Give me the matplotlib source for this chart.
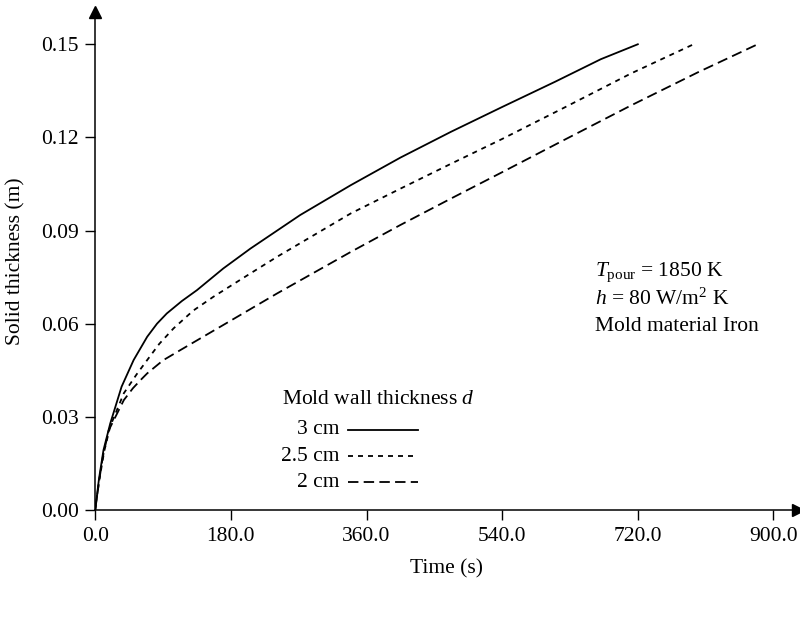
import numpy as np
import matplotlib
matplotlib.use("Agg")
import matplotlib.pyplot as plt
from matplotlib.lines import Line2D

plt.rcParams["font.family"] = ["Liberation Serif", "DejaVu Serif"]
plt.rcParams["mathtext.fontset"] = "custom"
plt.rcParams["mathtext.rm"] = "Liberation Serif"
plt.rcParams["mathtext.it"] = "Liberation Serif:italic"
plt.rcParams["lines.scale_dashes"] = False

# solidified thickness vs time, one curve per mold wall thickness
t_3cm = [0, 5, 11, 20, 35, 51, 69, 82, 95, 115, 135, 170, 206, 272, 339, 405, 472,
         540, 610, 671, 720]
y_3cm = [0, 0.0100, 0.0193, 0.0279, 0.0397, 0.0483, 0.0558, 0.0600, 0.0633, 0.0673,
         0.0708, 0.0778, 0.0842, 0.0950, 0.1046, 0.1135, 0.1218, 0.1298, 0.1379,
         0.1452, 0.150]
t_25cm = [0, 5, 12, 20, 38, 55, 69, 85, 104, 130, 157, 206, 241, 339, 405, 472, 540,
          620, 711, 794]
y_25cm = [0, 0.0090, 0.0190, 0.0270, 0.0376, 0.0437, 0.0483, 0.0535, 0.0585, 0.0642,
          0.0687, 0.0762, 0.0815, 0.0955, 0.1035, 0.1115, 0.1195, 0.1293, 0.1406, 0.150]
t_2cm = [0, 5, 10, 18, 38, 50, 60, 69, 90, 113, 175, 241, 339, 405, 472, 540, 620,
         711, 800, 879]
y_2cm = [0, 0.0090, 0.0170, 0.0257, 0.0354, 0.0392, 0.0418, 0.0440, 0.0482, 0.0515,
         0.0603, 0.0697, 0.0831, 0.0918, 0.1003, 0.1088, 0.1189, 0.1303, 0.1410, 0.150]

labels = ["3 cm", "2.5 cm", "2 cm"]
styles = ["-", (0, (3.6, 3.6)), (0, (7.5, 3.8))]

xticks = [0, 180, 360, 540, 720, 900]
yticks = [0.0, 0.03, 0.06, 0.09, 0.12, 0.15]

FS = 15.5

fig = plt.figure(figsize=(8, 6.3), dpi=100)
ax = fig.add_axes([0.119, 0.1905, 0.878, 0.790])

series = [(t_3cm, y_3cm), (t_25cm, y_25cm), (t_2cm, y_2cm)]
for (t, y), ls in zip(series, styles):
    ax.plot(t, y, color="black", lw=1.3, linestyle=ls)

ax.set_xlim(0, 932)
ax.set_ylim(0, 0.1603)
ax.set_xticks(xticks)
ax.set_xticklabels([f"{v:.1f}" for v in xticks])
ax.set_yticks(yticks)
ax.set_yticklabels([f"{v:.2f}" for v in yticks])
ax.tick_params(direction="out", length=7, width=1, labelsize=FS, pad=5)
for s in ["top", "right"]:
    ax.spines[s].set_visible(False)
for s in ["left", "bottom"]:
    ax.spines[s].set_linewidth(1.1)

# arrow heads on the axes
ax.plot(1, 0, marker=">", color="black", markersize=9, transform=ax.transAxes,
        clip_on=False)
ax.plot(0, 1, marker="^", color="black", markersize=9, transform=ax.transAxes,
        clip_on=False)

ax.set_xlabel("Time (s)", fontsize=FS, labelpad=10)
ax.set_ylabel("Solid thickness (m)", fontsize=FS, labelpad=11)

# hand-made legend
ax.text(0.266, 0.221, r"Mold wall thickness $\mathit{d}$", transform=ax.transAxes,
        fontsize=FS, ha="left", va="center")
leg_y = [0.161, 0.108, 0.056]
for lab, ls, yy in zip(labels, styles, leg_y):
    ax.text(0.348, yy, lab, transform=ax.transAxes, fontsize=FS, ha="right",
            va="center")
    ax.add_line(Line2D([0.360, 0.460], [yy, yy], transform=ax.transAxes,
                       color="black", lw=1.3, linestyle=ls))

# operating conditions
ax.text(0.712, 0.478, r"$T_{\rm pour}$ = 1850 K", transform=ax.transAxes,
        fontsize=FS, ha="left", va="center")
ax.text(0.712, 0.424, r"$h$ = 80 W/m$^2$ K", transform=ax.transAxes,
        fontsize=FS, ha="left", va="center")
ax.text(0.712, 0.369, "Mold material Iron", transform=ax.transAxes,
        fontsize=FS, ha="left", va="center")

fig.savefig("out.png", dpi=100)
